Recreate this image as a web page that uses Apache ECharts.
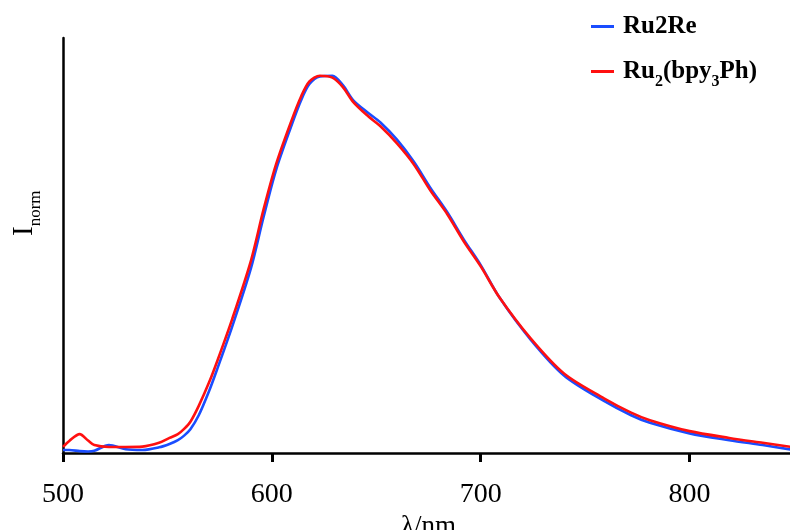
<!DOCTYPE html>
<html>
<head>
<meta charset="utf-8">
<script src="https://cdn.jsdelivr.net/npm/echarts@6/dist/echarts.min.js"></script>
<style>html,body{margin:0;padding:0;background:#fff}#c{width:790px;height:530px}</style>
</head>
<body>
<div id="c"></div>
<script>
const wavelength = [500,503,508,512,515,522,530,538,546,551,555,558,561,565,570,574,581,590,596,602,609,614,618,623,629,634,639,646,652,660,668,676,684,692,700,709,724,740,759,772,781,800,819,835,850];
const ru2re =      [0.008,0.008,0.005,0.004,0.006,0.021,0.010,0.008,0.015,0.024,0.034,0.046,0.063,0.100,0.165,0.225,0.335,0.490,0.625,0.750,0.862,0.935,0.978,0.998,1.000,0.975,0.935,0.902,0.876,0.830,0.772,0.702,0.638,0.565,0.498,0.412,0.300,0.205,0.138,0.100,0.080,0.052,0.034,0.021,0.008];
const ru2bpy =     [0.016,0.032,0.050,0.033,0.021,0.016,0.016,0.017,0.027,0.040,0.050,0.064,0.083,0.125,0.188,0.246,0.355,0.510,0.645,0.765,0.875,0.945,0.985,1.000,0.995,0.970,0.930,0.893,0.866,0.820,0.765,0.695,0.633,0.560,0.495,0.412,0.303,0.210,0.145,0.107,0.087,0.058,0.040,0.027,0.015];
const xTicks = [500,600,700,800];
const seriesNames = ['Ru2Re','Ru2(bpy3Ph)'];

const serif = 'Liberation Serif';
const chart = echarts.init(document.getElementById('c'), null, {renderer:'canvas'});
chart.setOption({
  animation:false,
  backgroundColor:'#fff',
  grid:{left:63,right:-4,top:38,bottom:77, containLabel:false, outerBoundsMode:'none'},
  legend:{
    orient:'vertical', left:586, top:9, itemGap:20,
    icon:'rect', itemWidth:23, itemHeight:3,
    data:seriesNames,
    formatter:function(n){ return n==='Ru2Re' ? '{b|Ru2Re}' : '{b|Ru}{s|2}{b|(bpy}{s|3}{b|Ph)}'; },
    textStyle:{
      fontFamily:serif, fontWeight:'bold', fontSize:25, color:'#000', padding:[0,0,0,4],
      rich:{
        b:{fontFamily:serif, fontWeight:'bold', fontSize:25, color:'#000', lineHeight:28},
        s:{fontFamily:serif, fontWeight:'bold', fontSize:16, color:'#000', verticalAlign:'bottom', lineHeight:16, padding:[0,0,-4,0]}
      }
    }
  },
  xAxis:{
    type:'value', min:500, max:850, interval:100,
    axisLine:{show:true, onZero:false, lineStyle:{color:'#000', width:2.5}},
    axisTick:{show:true, inside:false, customValues:xTicks, length:9, lineStyle:{color:'#000', width:3}},
    axisLabel:{show:true, margin:28, fontFamily:serif, fontSize:28, color:'#000', customValues:xTicks},
    splitLine:{show:false},
    name:'λ/nm', nameLocation:'middle', nameGap:52,
    nameTextStyle:{fontFamily:serif, fontSize:27, color:'#000'}
  },
  yAxis:{
    type:'value', min:0, max:1.1,
    axisLine:{show:true, onZero:false, lineStyle:{color:'#000', width:2.5}},
    axisTick:{show:false}, axisLabel:{show:false}, splitLine:{show:false}
  },
  graphic:[
    {id:'ylab', type:'text', x:39, y:236, rotation:Math.PI/2,
     style:{text:'{i|I}{s|norm}', rich:{
       i:{fontFamily:serif, fontSize:29, fill:'#000', lineHeight:30},
       s:{fontFamily:serif, fontSize:17, fill:'#000', verticalAlign:'bottom', lineHeight:17, padding:[0,0,-5,0]}
     }, verticalAlign:'bottom', align:'left'}}
  ],
  series:[
    {name:'Ru2Re', type:'line', showSymbol:false, symbol:'none', smooth:0.3, color:'#1a4dff',
     lineStyle:{width:2.6, color:'#1a4dff'}, data:wavelength.map((w,i)=>[w,ru2re[i]])},
    {name:'Ru2(bpy3Ph)', type:'line', showSymbol:false, symbol:'none', smooth:0.3, color:'#ff1010',
     lineStyle:{width:2.6, color:'#ff1010'}, data:wavelength.map((w,i)=>[w,ru2bpy[i]])}
  ]
});
</script>
</body>
</html>
